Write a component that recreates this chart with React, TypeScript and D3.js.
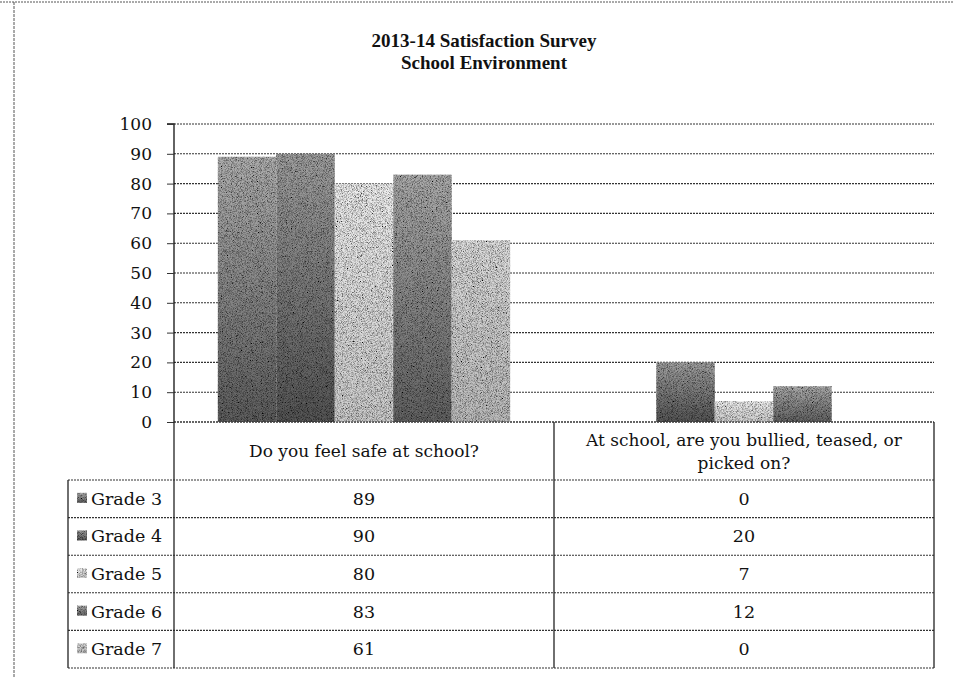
import React, { useEffect, useRef } from 'react';
import * as d3 from 'd3';

// chart data
const categories = ['Do you feel safe at school?', 'At school, are you bullied, teased, or picked on?'];
const categoryLines = [['Do you feel safe at school?'], ['At school, are you bullied, teased, or', 'picked on?']];
const grades = ['Grade 3', 'Grade 4', 'Grade 5', 'Grade 6', 'Grade 7'];
const grade3Values = [89, 0];
const grade4Values = [90, 20];
const grade5Values = [80, 7];
const grade6Values = [83, 12];
const grade7Values = [61, 0];
const yTicks = [0, 10, 20, 30, 40, 50, 60, 70, 80, 90, 100];
const titleLines = ['2013-14 Satisfaction Survey', 'School Environment'];

// gray fills [top, bottom] per grade (scanned look)
const fills: [string, string][] = [
  ['#b0b0b0', '#5e5e5e'],
  ['#a0a0a0', '#555555'],
  ['#eeeeee', '#cccccc'],
  ['#acacac', '#626262'],
  ['#dedede', '#bbbbbb'],
];

const FONT = '"DejaVu Serif", "Liberation Serif", serif';
const TITLE_FONT = '"Liberation Serif", serif';

export default function App() {
  const svgRef = useRef<SVGSVGElement>(null);

  useEffect(() => {
    if (!svgRef.current) return;
    const svg = d3.select(svgRef.current);
    svg.selectAll('*').remove();

    const values = [grade3Values, grade4Values, grade5Values, grade6Values, grade7Values];
    const plot = { left: 174, right: 934, top: 124, bottom: 422 };
    const legendLeft = 68;
    const headerBottom = 480;
    const tableBottom = 668;
    const rowH = (tableBottom - headerBottom) / grades.length;

    const defs = svg.append('defs');
    fills.forEach((f, i) => {
      const lg = defs.append('linearGradient')
        .attr('id', `g${i}`)
        .attr('x1', 0).attr('y1', 0).attr('x2', 0).attr('y2', 1);
      lg.append('stop').attr('offset', '0%').attr('stop-color', f[0]);
      lg.append('stop').attr('offset', '100%').attr('stop-color', f[1]);
    });

    // grain filter for the scanned texture
    const flt = defs.append('filter').attr('id', 'grain').attr('x', 0).attr('y', 0).attr('width', 1).attr('height', 1);
    flt.append('feTurbulence').attr('type', 'fractalNoise').attr('baseFrequency', 1.2).attr('numOctaves', 2).attr('result', 'noise');
    flt.append('feColorMatrix').attr('in', 'noise').attr('type', 'matrix')
      .attr('values', '0 0 0 0 0  0 0 0 0 0  0 0 0 0 0  0 0 0 -2.2 1.35').attr('result', 'dark');
    flt.append('feComposite').attr('in', 'dark').attr('in2', 'SourceGraphic').attr('operator', 'in').attr('result', 'dots');
    flt.append('feMerge').call(m => {
      m.append('feMergeNode').attr('in', 'SourceGraphic');
      m.append('feMergeNode').attr('in', 'dots');
    });

    const x0 = d3.scaleBand().domain(categories).range([plot.left, plot.right]).padding(0);
    const x1 = d3.scaleBand().domain(grades).range([0, x0.bandwidth()]).paddingInner(0).paddingOuter(0.75);
    const y = d3.scaleLinear().domain([0, 100]).range([plot.bottom, plot.top]);

    // outer frame
    svg.append('line').attr('x1', 0).attr('x2', 954).attr('y1', 2).attr('y2', 2)
      .attr('stroke', '#555').attr('stroke-dasharray', '2 1');
    svg.append('line').attr('x1', 14).attr('x2', 14).attr('y1', 2).attr('y2', 677)
      .attr('stroke', '#555').attr('stroke-dasharray', '3 1');

    // title
    svg.append('text')
      .attr('x', 484).attr('text-anchor', 'middle')
      .attr('font-family', TITLE_FONT).attr('font-weight', 'bold').attr('font-size', 19)
      .attr('fill', '#111')
      .selectAll('tspan').data(titleLines).enter().append('tspan')
      .attr('x', 484).attr('y', (_, i) => 47 + i * 22)
      .text(d => d);

    // gridlines
    svg.append('g').selectAll('line').data(yTicks).enter().append('line')
      .attr('x1', plot.left).attr('x2', plot.right)
      .attr('y1', d => y(d)).attr('y2', d => y(d))
      .attr('stroke', '#333').attr('stroke-width', 1.1).attr('stroke-dasharray', '2 1');

    // bars
    const barG = svg.append('g').attr('filter', 'url(#grain)');
    categories.forEach((c, ci) => {
      grades.forEach((g, gi) => {
        const v = values[gi][ci];
        if (v <= 0) return;
        barG.append('rect')
          .attr('x', x0(c)! + x1(g)!)
          .attr('y', y(v))
          .attr('width', x1.bandwidth())
          .attr('height', y(0) - y(v))
          .attr('fill', `url(#g${gi})`);
      });
    });

    // y axis
    svg.append('g')
      .attr('transform', `translate(${plot.left},0)`)
      .call(d3.axisLeft(y).tickValues(yTicks).tickSize(7).tickPadding(15).tickFormat(d3.format('d')))
      .call(g => g.select('.domain').attr('stroke', '#111').attr('stroke-width', 1.3).attr('d', `M-7,${plot.top}H0V${plot.bottom}`))
      .call(g => g.selectAll('.tick line').attr('stroke', '#333'))
      .call(g => g.selectAll('.tick text')
        .attr('fill', '#111').attr('font-size', 17).attr('font-family', FONT));

    // data table
    const tg = svg.append('g');
    const hLine = (x1v: number, x2v: number, yv: number) => tg.append('line')
      .attr('x1', x1v).attr('x2', x2v).attr('y1', yv).attr('y2', yv)
      .attr('stroke', '#333').attr('stroke-width', 1.1).attr('stroke-dasharray', '2 1');
    const vLine = (xv: number, y1v: number, y2v: number) => tg.append('line')
      .attr('x1', xv).attr('x2', xv).attr('y1', y1v).attr('y2', y2v)
      .attr('stroke', '#222').attr('stroke-width', 1.3);

    hLine(plot.left, plot.right, plot.bottom);
    grades.forEach((_, i) => hLine(legendLeft, plot.right, headerBottom + i * rowH));
    hLine(legendLeft, plot.right, tableBottom);
    vLine(legendLeft, headerBottom, tableBottom);
    vLine(plot.left, plot.bottom, tableBottom);
    vLine(x0(categories[1])!, plot.bottom, tableBottom);
    vLine(plot.right, plot.bottom, tableBottom);

    // category headers
    categories.forEach((c, ci) => {
      const cx = x0(c)! + x0.bandwidth() / 2;
      const lines = categoryLines[ci];
      const mid = (plot.bottom + headerBottom) / 2;
      tg.append('text')
        .attr('text-anchor', 'middle').attr('font-family', FONT).attr('font-size', 17).attr('fill', '#111')
        .selectAll('tspan').data(lines).enter().append('tspan')
        .attr('x', cx)
        .attr('y', (_, i) => mid + 6 + (i - (lines.length - 1) / 2) * 23)
        .text(d => d);
    });

    // rows
    grades.forEach((g, gi) => {
      const cy = headerBottom + rowH * (gi + 0.5);
      tg.append('rect')
        .attr('x', 77).attr('y', cy - 6).attr('width', 10).attr('height', 10)
        .attr('fill', `url(#g${gi})`).attr('filter', 'url(#grain)');
      tg.append('text')
        .attr('x', 91).attr('y', cy + 6)
        .attr('font-family', FONT).attr('font-size', 17.5).attr('fill', '#111')
        .text(g);
      categories.forEach((c, ci) => {
        tg.append('text')
          .attr('x', x0(c)! + x0.bandwidth() / 2).attr('y', cy + 6)
          .attr('text-anchor', 'middle')
          .attr('font-family', FONT).attr('font-size', 17.5).attr('fill', '#111')
          .text(values[gi][ci]);
      });
    });
  }, []);

  return (
    <svg
      ref={svgRef}
      width={954}
      height={677}
      style={{ position: 'absolute', left: 0, top: 0, display: 'block', background: '#fff' }}
    />
  );
}
